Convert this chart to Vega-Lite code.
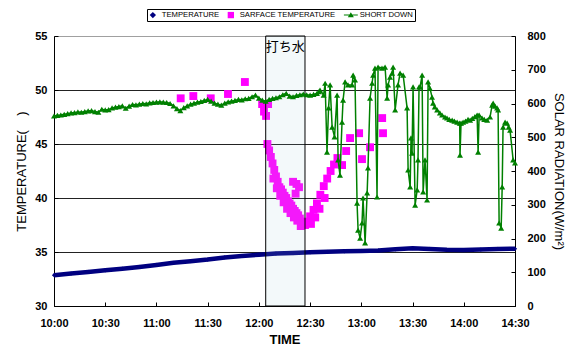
{
  "$schema": "https://vega.github.io/schema/vega-lite/v6.json",
  "width": 461,
  "height": 270,
  "autosize": {"type": "none"},
  "padding": {"left": 54, "top": 36, "right": 52, "bottom": 41},
  "config": {
    "font": "Liberation Sans",
    "view": {"stroke": "#a0a0a0", "strokeWidth": 1},
    "axis": {
      "domainColor": "#000",
      "domainWidth": 1,
      "tickColor": "#000",
      "tickWidth": 1,
      "tickSize": -4,
      "labelColor": "#000",
      "titleColor": "#000",
      "labelFont": "Liberation Sans",
      "labelFontSize": 11,
      "labelFontWeight": "bold",
      "titleFont": "Liberation Sans",
      "titleFontSize": 13,
      "titleFontWeight": "normal"
    }
  },
  "datasets": {
    "temperature": [
      {"t": 0, "v": 32.85}, {"t": 10, "v": 33.0}, {"t": 20, "v": 33.15}, {"t": 30, "v": 33.3},
      {"t": 40, "v": 33.45}, {"t": 50, "v": 33.62}, {"t": 60, "v": 33.8}, {"t": 70, "v": 34.0},
      {"t": 80, "v": 34.15}, {"t": 90, "v": 34.3}, {"t": 100, "v": 34.5}, {"t": 110, "v": 34.63},
      {"t": 120, "v": 34.75}, {"t": 130, "v": 34.85}, {"t": 140, "v": 34.9}, {"t": 150, "v": 34.97},
      {"t": 160, "v": 35.02}, {"t": 170, "v": 35.06}, {"t": 180, "v": 35.1}, {"t": 190, "v": 35.15},
      {"t": 200, "v": 35.25}, {"t": 210, "v": 35.35}, {"t": 220, "v": 35.28}, {"t": 230, "v": 35.2},
      {"t": 240, "v": 35.18}, {"t": 250, "v": 35.22}, {"t": 260, "v": 35.28}, {"t": 270, "v": 35.3}
    ],
    "surface": [
      {"t": 74.2, "v": 49.23}, {"t": 81.6, "v": 49.44}, {"t": 91.8, "v": 49.23}, {"t": 101.9, "v": 49.63},
      {"t": 111.8, "v": 50.74},
      {"t": 121.9, "v": 48.7}, {"t": 125.4, "v": 48.7}, {"t": 123.0, "v": 48.0}, {"t": 124.2, "v": 47.6},
      {"t": 125, "v": 45.0}, {"t": 126, "v": 44.4}, {"t": 127, "v": 43.8}, {"t": 128, "v": 43.2},
      {"t": 129, "v": 42.6}, {"t": 130, "v": 42.0}, {"t": 131, "v": 41.5}, {"t": 132, "v": 41.0},
      {"t": 133, "v": 40.8}, {"t": 134, "v": 40.5}, {"t": 135, "v": 40.2}, {"t": 136, "v": 40.0},
      {"t": 137, "v": 39.7}, {"t": 138, "v": 39.5}, {"t": 139, "v": 39.3}, {"t": 140, "v": 39.0},
      {"t": 141, "v": 38.8}, {"t": 142, "v": 38.6}, {"t": 143, "v": 38.4}, {"t": 144, "v": 38.1},
      {"t": 145, "v": 37.8}, {"t": 146, "v": 37.6}, {"t": 147, "v": 37.5},
      {"t": 128.5, "v": 41.8}, {"t": 130.5, "v": 40.9}, {"t": 132.5, "v": 40.2}, {"t": 134.5, "v": 39.6},
      {"t": 136.5, "v": 39.0}, {"t": 138.5, "v": 38.6}, {"t": 140.5, "v": 38.2}, {"t": 142.5, "v": 37.9},
      {"t": 144.5, "v": 37.4},
      {"t": 140, "v": 41.5}, {"t": 142, "v": 41.3}, {"t": 143.5, "v": 41.0}, {"t": 141.5, "v": 40.4},
      {"t": 148, "v": 37.8}, {"t": 150, "v": 38.3}, {"t": 152, "v": 38.9}, {"t": 154, "v": 39.5},
      {"t": 156, "v": 40.3}, {"t": 158, "v": 41.1}, {"t": 160, "v": 41.8}, {"t": 162, "v": 42.5},
      {"t": 164, "v": 43.1}, {"t": 166, "v": 43.7},
      {"t": 150.5, "v": 37.6}, {"t": 153, "v": 38.2}, {"t": 155.5, "v": 39.0}, {"t": 158.5, "v": 40.0},
      {"t": 168.7, "v": 43.05}, {"t": 171.1, "v": 44.35}, {"t": 173.4, "v": 45.55}, {"t": 178.7, "v": 46.0},
      {"t": 180.4, "v": 43.6}, {"t": 185.1, "v": 44.7}, {"t": 192.2, "v": 47.4}, {"t": 192.7, "v": 46.0}
    ],
    "solar": [
      {"t": 0, "v": 563}, {"t": 2, "v": 565}, {"t": 4, "v": 566}, {"t": 6, "v": 568},
      {"t": 8, "v": 570}, {"t": 10, "v": 572}, {"t": 12, "v": 573}, {"t": 14, "v": 575},
      {"t": 16, "v": 574}, {"t": 18, "v": 576}, {"t": 20, "v": 578}, {"t": 22, "v": 579},
      {"t": 24, "v": 576}, {"t": 26, "v": 574}, {"t": 28, "v": 583}, {"t": 30, "v": 581},
      {"t": 32, "v": 582}, {"t": 34, "v": 587}, {"t": 36, "v": 589}, {"t": 38, "v": 591},
      {"t": 40, "v": 593}, {"t": 42, "v": 586}, {"t": 44, "v": 592}, {"t": 46, "v": 597},
      {"t": 48, "v": 596}, {"t": 50, "v": 598}, {"t": 52, "v": 600}, {"t": 54, "v": 599},
      {"t": 56, "v": 602}, {"t": 58, "v": 603}, {"t": 60, "v": 604}, {"t": 62, "v": 605},
      {"t": 64, "v": 604}, {"t": 66, "v": 603}, {"t": 68, "v": 600}, {"t": 70, "v": 593},
      {"t": 72, "v": 585}, {"t": 74, "v": 579}, {"t": 76, "v": 588}, {"t": 78, "v": 593},
      {"t": 80, "v": 598}, {"t": 82, "v": 601}, {"t": 84, "v": 604}, {"t": 86, "v": 606},
      {"t": 88, "v": 609}, {"t": 90, "v": 612}, {"t": 92, "v": 607}, {"t": 94, "v": 601},
      {"t": 96, "v": 598}, {"t": 98, "v": 595}, {"t": 100, "v": 601}, {"t": 102, "v": 605},
      {"t": 104, "v": 607}, {"t": 106, "v": 609}, {"t": 108, "v": 612}, {"t": 110, "v": 611},
      {"t": 112, "v": 614}, {"t": 114, "v": 615}, {"t": 116, "v": 620}, {"t": 118, "v": 625},
      {"t": 120, "v": 616}, {"t": 122, "v": 610}, {"t": 124, "v": 607}, {"t": 126, "v": 612},
      {"t": 128, "v": 615}, {"t": 130, "v": 617}, {"t": 132, "v": 620}, {"t": 134, "v": 626},
      {"t": 136, "v": 630}, {"t": 138, "v": 622}, {"t": 140, "v": 620}, {"t": 142, "v": 624},
      {"t": 144, "v": 626}, {"t": 146, "v": 628}, {"t": 148, "v": 626}, {"t": 150, "v": 625},
      {"t": 152, "v": 627}, {"t": 154, "v": 630}, {"t": 155.2, "v": 635},
      {"t": 155.8, "v": 640}, {"t": 157.9, "v": 625}, {"t": 158.8, "v": 660}, {"t": 159.9, "v": 456},
      {"t": 160.8, "v": 587}, {"t": 161.7, "v": 655}, {"t": 162.9, "v": 530}, {"t": 164.3, "v": 501},
      {"t": 165.8, "v": 625}, {"t": 166.4, "v": 433}, {"t": 167.5, "v": 388}, {"t": 168.7, "v": 545},
      {"t": 169.3, "v": 610}, {"t": 170.5, "v": 664}, {"t": 172.2, "v": 655}, {"t": 174.6, "v": 655},
      {"t": 175.2, "v": 684}, {"t": 176.3, "v": 670}, {"t": 177.5, "v": 305}, {"t": 178.1, "v": 225},
      {"t": 179.3, "v": 201}, {"t": 180.4, "v": 246}, {"t": 181.0, "v": 320}, {"t": 182.2, "v": 187},
      {"t": 183.4, "v": 335}, {"t": 183.9, "v": 409}, {"t": 185.1, "v": 616}, {"t": 186.3, "v": 660},
      {"t": 186.9, "v": 684}, {"t": 188.0, "v": 705}, {"t": 189.2, "v": 323}, {"t": 189.8, "v": 708},
      {"t": 192.1, "v": 705}, {"t": 193.9, "v": 708}, {"t": 195.1, "v": 616}, {"t": 195.7, "v": 655},
      {"t": 196.8, "v": 678}, {"t": 198.0, "v": 690}, {"t": 198.6, "v": 708}, {"t": 199.8, "v": 581},
      {"t": 201.5, "v": 655}, {"t": 202.7, "v": 690}, {"t": 204.5, "v": 684}, {"t": 206.8, "v": 587},
      {"t": 207.4, "v": 403}, {"t": 208.6, "v": 353}, {"t": 209.1, "v": 498}, {"t": 209.7, "v": 453},
      {"t": 210.3, "v": 649}, {"t": 211.5, "v": 299}, {"t": 212.7, "v": 344}, {"t": 213.2, "v": 433},
      {"t": 213.8, "v": 649}, {"t": 214.4, "v": 649}, {"t": 215.6, "v": 684}, {"t": 216.2, "v": 338},
      {"t": 217.3, "v": 433}, {"t": 218.5, "v": 314}, {"t": 219.1, "v": 664}, {"t": 220.2, "v": 645},
      {"t": 221.4, "v": 619}, {"t": 222.0, "v": 601}, {"t": 223.0, "v": 590}, {"t": 224.4, "v": 581},
      {"t": 226.0, "v": 572}, {"t": 227.3, "v": 566}, {"t": 229.0, "v": 560}, {"t": 230.2, "v": 557},
      {"t": 231.5, "v": 553}, {"t": 233.2, "v": 551}, {"t": 234.5, "v": 548}, {"t": 236.1, "v": 545},
      {"t": 237.6, "v": 542}, {"t": 237.8, "v": 447}, {"t": 238.4, "v": 542}, {"t": 239.6, "v": 545},
      {"t": 241.0, "v": 548}, {"t": 242.5, "v": 553}, {"t": 243.7, "v": 551}, {"t": 245.0, "v": 556},
      {"t": 246.5, "v": 561}, {"t": 247.8, "v": 566}, {"t": 248.4, "v": 456}, {"t": 249.0, "v": 566},
      {"t": 250.7, "v": 557}, {"t": 252.0, "v": 553}, {"t": 253.7, "v": 551}, {"t": 255.4, "v": 560},
      {"t": 256.6, "v": 595}, {"t": 257.2, "v": 601}, {"t": 258.3, "v": 592}, {"t": 259.5, "v": 587},
      {"t": 260.1, "v": 581}, {"t": 260.7, "v": 246}, {"t": 261.9, "v": 231}, {"t": 262.5, "v": 353},
      {"t": 263.0, "v": 530}, {"t": 264.2, "v": 545}, {"t": 265.4, "v": 542}, {"t": 266.3, "v": 530},
      {"t": 267.1, "v": 521}, {"t": 268.9, "v": 433}, {"t": 270.0, "v": 424}
    ],
    "spray": [
      {"t": 124, "t2": 147, "label": "打ち水"}
    ]
  },
  "encoding": {
    "x": {
      "field": "t",
      "type": "quantitative",
      "scale": {"domain": [0, 270], "nice": false, "zero": false},
      "axis": {
        "values": [0, 30, 60, 90, 120, 150, 180, 210, 240, 270],
        "labelExpr": "(10 + floor(datum.value / 60)) + ':' + (datum.value % 60 == 0 ? '00' : '30')",
        "title": "TIME",
        "titleFontWeight": "bold",
        "labelPadding": 15,
        "titlePadding": 5,
        "labelFlush": false,
        "grid": false
      }
    }
  },
  "layer": [
    {
      "layer": [
        {
          "data": {"name": "temperature"},
          "mark": {"type": "line", "color": "#000080", "strokeWidth": 4.5},
          "encoding": {
            "y": {
              "field": "v",
              "type": "quantitative",
              "scale": {"domain": [30, 55], "nice": false, "zero": false},
              "axis": {
                "values": [30, 35, 40, 45, 50, 55],
                "title": "TEMPERATURE(\u00a0\u00a0\u00a0\u00a0)",
                "labelPadding": 11,
                "titlePadding": 6,
                "grid": true,
                "gridColor": {"condition": {"test": "datum.value === 55", "value": "#a0a0a0"}, "value": "#222"},
                "gridWidth": 1
              }
            }
          }
        },
        {
          "data": {"name": "temperature"},
          "mark": {"type": "point", "filled": true, "size": 18, "opacity": 1},
          "encoding": {
            "y": {"field": "v", "type": "quantitative"},
            "color": {
              "datum": "TEMPERATURE",
              "type": "nominal",
              "scale": {
                "domain": ["TEMPERATURE", "SARFACE TEMPERATURE", "SHORT DOWN"],
                "range": ["#000080", "#ff00ff", "#008000"]
              },
              "legend": {
                "title": null,
                "orient": "none",
                "legendX": 93,
                "legendY": -27,
                "direction": "horizontal",
                "strokeColor": "#000",
                "fillColor": "#fff",
                "padding": 2,
                "symbolSize": 40,
                "symbolStrokeWidth": 0,
                "labelFont": "Liberation Sans",
                "labelFontSize": 7.7,
                "labelColor": "#000",
                "labelOffset": 5,
                "columnPadding": 7
              }
            },
            "shape": {
              "datum": "TEMPERATURE",
              "type": "nominal",
              "scale": {
                "domain": ["TEMPERATURE", "SARFACE TEMPERATURE", "SHORT DOWN"],
                "range": ["diamond", "square", "M-2.2,-0.16H2.2V0.16H-2.2ZM0,-0.9L0.95,0.65H-0.95Z"]
              },
              "legend": {
                "title": null,
                "orient": "none",
                "legendX": 93,
                "legendY": -27,
                "direction": "horizontal",
                "strokeColor": "#000",
                "fillColor": "#fff",
                "padding": 2,
                "symbolSize": 40,
                "symbolStrokeWidth": 0,
                "labelFont": "Liberation Sans",
                "labelFontSize": 7.7,
                "labelColor": "#000",
                "labelOffset": 5,
                "columnPadding": 7
              }
            }
          }
        },
        {
          "data": {"name": "surface"},
          "mark": {"type": "point", "filled": true, "size": 62, "opacity": 1},
          "encoding": {
            "y": {"field": "v", "type": "quantitative"},
            "color": {"datum": "SARFACE TEMPERATURE", "type": "nominal"},
            "shape": {"datum": "SARFACE TEMPERATURE", "type": "nominal"}
          }
        },
        {
          "data": {"name": "spray"},
          "mark": {"type": "rect", "fill": "#9fd0d8", "fillOpacity": 0.12, "stroke": "#000", "strokeWidth": 1},
          "encoding": {
            "x2": {"field": "t2"}
          }
        },
        {
          "data": {"name": "spray"},
          "mark": {"type": "text", "align": "left", "baseline": "top", "dy": 5, "fontSize": 13, "font": "Noto Sans CJK JP", "color": "#000"},
          "encoding": {
            "y": {"datum": 55, "type": "quantitative"},
            "text": {"field": "label"}
          }
        }
      ]
    },
    {
      "data": {"name": "solar"},
      "encoding": {
        "y": {
          "field": "v",
          "type": "quantitative",
          "scale": {"domain": [0, 800], "nice": false, "zero": true},
          "axis": {
            "orient": "right",
            "values": [0, 100, 200, 300, 400, 500, 600, 700, 800],
            "title": "SOLAR RADIATION(W/m²)",
            "labelPadding": 16,
            "titlePadding": 6,
            "grid": false
          }
        }
      },
      "layer": [
        {
          "mark": {"type": "line", "color": "#008000", "strokeWidth": 1.5},
          "encoding": {}
        },
        {
          "mark": {"type": "point", "shape": "triangle-up", "filled": true, "size": 36, "opacity": 1},
          "encoding": {
            "color": {"datum": "SHORT DOWN", "type": "nominal"}
          }
        }
      ]
    }
  ],
  "resolve": {"scale": {"y": "independent"}}
}
